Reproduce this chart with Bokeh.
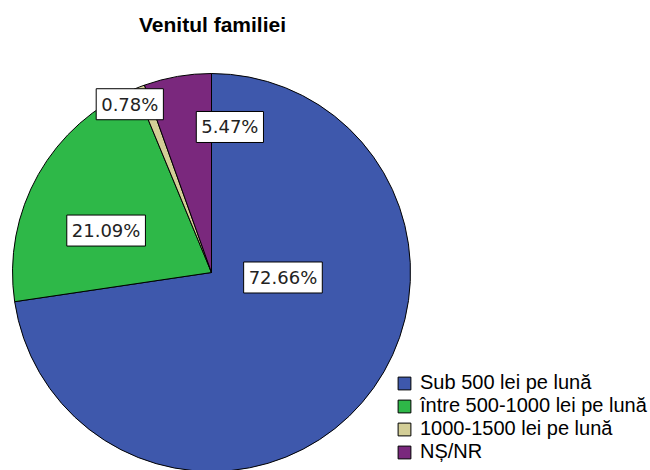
import math
from bokeh.plotting import figure
from bokeh.models import ColumnDataSource, Range1d, Label, Legend, LegendItem
from bokeh.embed import file_html
from bokeh.resources import INLINE

# ---- data ----
categories = ["Sub 500 lei pe lună", "între 500-1000 lei pe lună",
              "1000-1500 lei pe lună", "NȘ/NR"]
counts = [93, 27, 1, 7]
percent_labels = ["72.66%", "21.09%", "0.78%", "5.47%"]
colors = ["#3E58AC", "#2EB848", "#D3CE97", "#7A287D"]

# ---- layout (screen-pixel based data space) ----
W, H = 650, 470
cx, cy, R = 211, -272, 199
label_angle_deg = [-4.0, 158.3, 115.9, 82.8]
label_rfrac = [0.36, 0.57, 0.94, 0.737]

total = sum(counts)
starts, ends = [], []
acc = 0.0
for c in counts:
    starts.append(math.pi / 2 - 2 * math.pi * acc / total)
    acc += c
    ends.append(math.pi / 2 - 2 * math.pi * acc / total)

src = ColumnDataSource(dict(cat=categories, start=starts, end=ends, color=colors,
                            x=[cx] * len(counts), y=[cy] * len(counts)))

p = figure(width=W, height=H, output_backend="svg", toolbar_location=None,
           x_range=Range1d(0, W), y_range=Range1d(-H, 0),
           min_border=0, outline_line_color=None)
p.axis.visible = False
p.grid.visible = False
p.background_fill_color = "white"
p.border_fill_color = "white"

r = p.wedge(x="x", y="y", radius=R, start_angle="start", end_angle="end",
            direction="clock", fill_color="color", line_color="black",
            line_width=1, source=src)

for lab, ang, fr in zip(percent_labels, label_angle_deg, label_rfrac):
    a = math.radians(ang)
    p.add_layout(Label(x=cx + R * fr * math.cos(a), y=cy + R * fr * math.sin(a),
                       text=lab, text_align="center", text_baseline="middle",
                       text_font="DejaVu Sans", text_font_size="18px",
                       text_color="#222222", background_fill_color="white",
                       border_line_color="black", border_line_width=1,
                       padding=5))

p.add_layout(Label(x=212, y=-24, text="Venitul familiei", text_align="center",
                   text_baseline="middle", text_font="Liberation Sans",
                   text_font_style="bold", text_font_size="21px",
                   text_color="black"))

items = [LegendItem(label=c, renderers=[r], index=i) for i, c in enumerate(categories)]
legend = Legend(items=items, location=(396, 7), padding=0, margin=0,
                spacing=0, glyph_width=16, glyph_height=16, label_standoff=8,
                label_text_font="Liberation Sans", label_text_font_size="20px",
                label_text_color="black", border_line_color=None,
                background_fill_alpha=0)
p.add_layout(legend, "center")

open("out.html", "w").write(file_html(p, INLINE))
